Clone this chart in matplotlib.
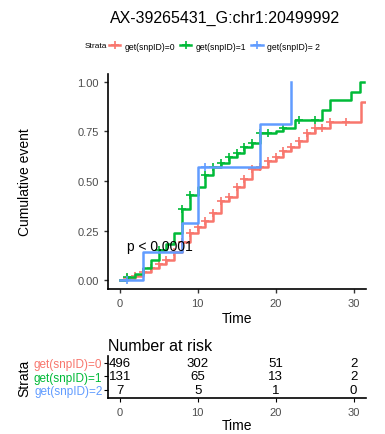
import matplotlib
matplotlib.use("Agg")
import matplotlib.pyplot as plt
from matplotlib.lines import Line2D

plt.rcParams['font.family'] = ['Liberation Sans', 'DejaVu Sans']

title = "AX-39265431_G:chr1:20499992"
strata = ["get(snpID)=0", "get(snpID)=1", "get(snpID)=2"]
legend_labels = ["get(snpID)=0", "get(snpID)=1", "get(snpID)= 2"]
colors = ["#F8766D", "#00BA38", "#619CFF"]

# step curves (time, cumulative event)
t0 = [0, 1, 2, 3, 4, 5, 6, 7, 8, 9, 10, 11, 12, 13, 14, 15, 16, 17, 18, 19, 20, 21, 22, 23, 24, 25, 27, 31, 31.5]
y0 = [0, 0.01, 0.02, 0.04, 0.06, 0.08, 0.10, 0.14, 0.19, 0.24, 0.27, 0.30, 0.34, 0.40, 0.42, 0.47, 0.51, 0.56, 0.57, 0.60, 0.62, 0.65, 0.67, 0.70, 0.74, 0.77, 0.80, 0.90, 0.90]
c0 = [1, 2, 3, 4, 5, 6, 7, 8, 9, 10, 11, 12, 13, 14, 15, 16, 17, 18, 19, 20, 21, 22, 23, 24, 25, 26, 27, 29]

t1 = [0, 1, 2, 3, 4, 5, 6, 7, 8, 9, 10, 11, 12, 13, 14, 15, 16, 17, 18, 20, 21, 22.5, 26, 27, 29.7, 30.8, 31.3]
y1 = [0, 0.015, 0.03, 0.06, 0.10, 0.15, 0.18, 0.24, 0.36, 0.43, 0.47, 0.53, 0.57, 0.59, 0.62, 0.64, 0.67, 0.69, 0.74, 0.75, 0.77, 0.81, 0.86, 0.91, 0.95, 1.0, 1.0]
c1 = [1, 5, 8, 9, 11, 12, 13, 14, 15, 16, 17, 18, 19, 21, 23, 25]

t2 = [0, 3, 8, 10, 18, 22, 22]
y2 = [0, 0.143, 0.286, 0.571, 0.786, 1.0, 1.0]
c2 = [1, 11]

risk_times = [0, 10, 20, 30]
risk = [[496, 302, 51, 2], [131, 65, 13, 2], [7, 5, 1, 0]]

W, H = 385, 435
fig = plt.figure(figsize=(W / 100, H / 100), dpi=100)

def ax_rect(l, t, r, b):
    return [l / W, 1 - b / H, (r - l) / W, (b - t) / H]

ax = fig.add_axes(ax_rect(108, 75, 366, 290))
curves = [(t0, y0, c0), (t1, y1, c1), (t2, y2, c2)]
for (t, y, c), col in zip(curves, colors):
    ax.step(t, y, where='post', color=col, lw=1.8)
    cy = [y[max(i for i in range(len(t)) if t[i] <= ct)] for ct in c]
    ax.plot(c, cy, linestyle='none', marker='+', color=col, ms=6, mew=1.2)

ax.set_xlim(-1.5, 31.6)
ax.set_ylim(-0.045, 1.04)
ax.set_xticks([0, 10, 20, 30])
ax.set_yticks([0, 0.25, 0.5, 0.75, 1.0])
ax.set_yticklabels(["0.00", "0.25", "0.50", "0.75", "1.00"])
for s in ['top', 'right']:
    ax.spines[s].set_visible(False)
for s in ['left', 'bottom']:
    ax.spines[s].set_linewidth(1.2)
ax.tick_params(labelsize=8, colors='#333333', length=3, width=1)
ax.tick_params(labelcolor='#4D4D4D')
ax.set_xlabel("Time", fontsize=10, labelpad=2)
ax.set_ylabel("Cumulative event", fontsize=10, labelpad=33)
ax.text(1, 0.17, "p < 0.0001", fontsize=10, ha='left', va='center')

fig.text(225 / W, 1 - 18 / H, title, fontsize=11.5, ha='center', va='center')
fig.text(85 / W, 1 - 47 / H, "Strata", fontsize=6, ha='left', va='center')
handles = [Line2D([0], [0], color=c, lw=1.8, marker='+', ms=6, mew=1.2) for c in colors]
fig.legend(handles, legend_labels, loc='center left', bbox_to_anchor=(109 / W, 1 - 47 / H),
           ncol=3, frameon=False, fontsize=6.2, handlelength=1.3, handletextpad=0.5,
           columnspacing=0.6, borderaxespad=0, borderpad=0)

# risk table
rt = fig.add_axes(ax_rect(108, 357, 366, 399))
rt.set_xlim(-1.5, 31.6)
rt.set_ylim(-0.6, 2.5)
for i, row in enumerate(risk):
    yy = 2 - i
    for tt, v in zip(risk_times, row):
        rt.text(tt, yy, str(v), ha='center', va='center', fontsize=9.5)
rt.set_yticks([2, 1, 0])
rt.set_yticklabels(strata, fontsize=8.5)
for lab, col in zip(rt.get_yticklabels(), colors):
    lab.set_color(col)
rt.set_xticks([0, 10, 20, 30])
rt.tick_params(axis='x', labelsize=8, labelcolor='#4D4D4D', length=3)
rt.tick_params(axis='y', length=3, pad=1)
for s in ['top', 'right']:
    rt.spines[s].set_visible(False)
for s in ['left', 'bottom']:
    rt.spines[s].set_linewidth(1.2)
rt.set_xlabel("Time", fontsize=10, labelpad=1)
rt.set_ylabel("Strata", fontsize=10, labelpad=2)
rt.set_title("Number at risk", fontsize=11.5, loc='left', pad=4)

fig.savefig("out.png", dpi=100)
